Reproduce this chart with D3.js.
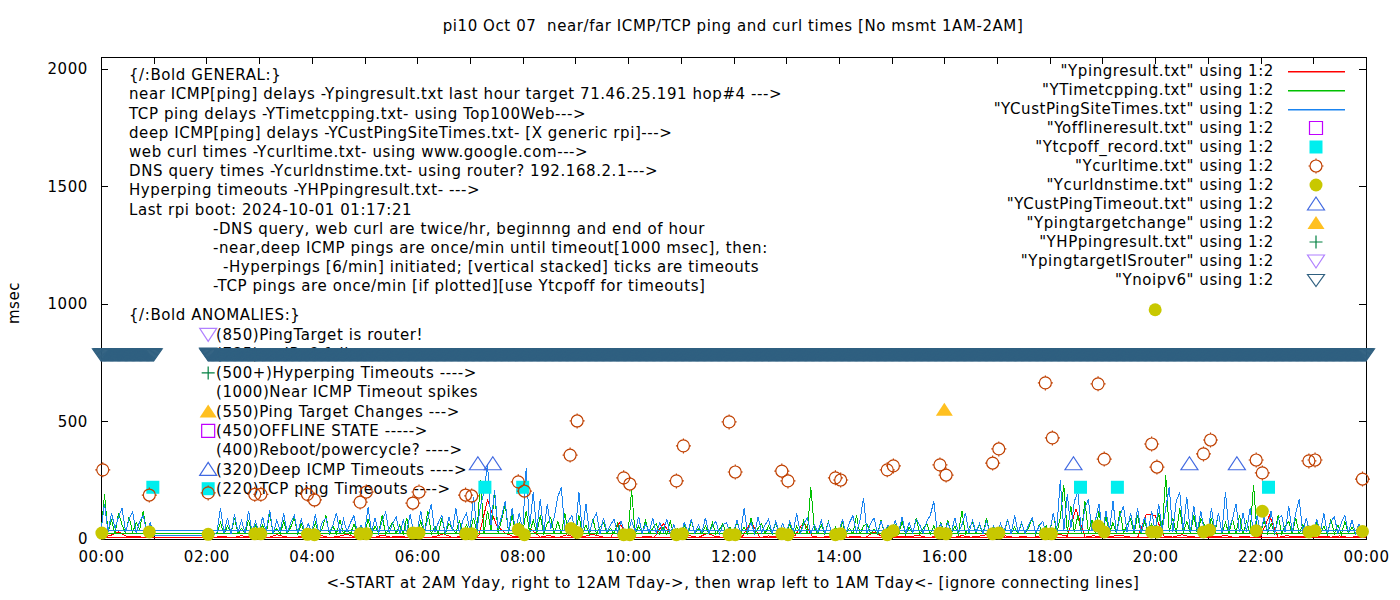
<!DOCTYPE html>
<html>
<head>
<meta charset="utf-8">
<script src="https://cdn.jsdelivr.net/npm/d3@7"></script>
<style>
  body { margin: 0; background: #fff; }
  text { font-family: "DejaVu Sans", sans-serif; font-size: 15px; letter-spacing: 0.58px; fill: #000; white-space: pre; }
</style>
</head>
<body>
<div id="my_dataviz"></div>
<script>

// ---- data (minutes after midnight, msec) ----

// near ICMP ping (Ypingresult), every 10 min
var nearStep = 10
var nearEarly = [8, 14, 30, 9, 12, 6, 8]            // 00:00 - 01:00 today
var nearLate = [                                    // 01:00 - 24:00 yesterday
  8, 8, 8, 8, 8, 8,
  8, 8, 10, 5, 14, 7,
  12, 6, 18, 9, 5, 13,
  7, 15, 6, 11, 20, 8,
  10, 5, 16, 8, 12, 6,
  14, 7, 9, 22, 6, 11,
  9, 13, 165, 60, 25, 10,
  12, 40, 8, 15, 6, 18,
  7, 11, 20, 9, 5, 68,
  13, 6, 10, 8, 66, 12,
  8, 14, 6, 25, 10, 7,
  11, 9, 75, 6, 13, 8,
  6, 15, 72, 10, 7, 12,
  14, 8, 11, 6, 30, 9,
  7, 12, 9, 16, 6, 10,
  10, 6, 14, 8, 12, 20,
  8, 13, 7, 10, 6, 15,
  9, 20, 12, 128, 8, 14,
  7, 11, 16, 9, 6, 105,
  100, 12, 8, 18, 10, 7,
  13, 9, 15, 6, 11, 8,
  10, 100, 7, 14, 9, 12,
  6, 11, 8, 13, 7, 10,
  8]

// TCP ping (YTimetcpping), every 4 min
var tcpStep = 4
var tcpEarly = [25, 190, 30, 80, 22, 110, 60, 24, 95, 28, 70, 40, 120, 26, 65, 25]
var tcpLate = [
  25, 25, 25, 25, 25, 25, 25, 25, 25, 25, 25, 25, 25, 25, 25,
  25, 25, 25, 22, 70, 20, 55, 24, 90, 21, 45, 23, 80, 20, 60,
  22, 60, 20, 110, 23, 45, 21, 75, 24, 50, 90, 20, 65, 22, 40,
  21, 70, 23, 45, 100, 20, 55, 22, 80, 24, 40, 21, 65, 23, 50,
  20, 85, 22, 55, 24, 100, 21, 45, 70, 23, 60, 20, 90, 22, 40,
  23, 75, 20, 120, 22, 55, 24, 90, 21, 65, 45, 23, 80, 20, 60,
  24, 90, 30, 250, 26, 120, 35, 200, 28, 80, 150, 25, 100, 22, 70,
  23, 120, 26, 80, 22, 100, 24, 65, 90, 21, 75, 23, 110, 20, 55,
  21, 100, 23, 60, 20, 85, 22, 50, 70, 24, 45, 21, 65, 23, 40,
  20, 210, 22, 55, 24, 80, 21, 45, 65, 23, 50, 20, 75, 22, 45,
  22, 60, 20, 80, 23, 45, 21, 55, 24, 70, 20, 40, 65, 22, 50,
  21, 75, 23, 50, 20, 90, 22, 45, 65, 24, 55, 21, 70, 23, 40,
  22, 65, 20, 55, 24, 80, 21, 220, 45, 23, 60, 20, 75, 22, 50,
  20, 70, 23, 45, 22, 100, 21, 55, 65, 24, 40, 20, 80, 23, 50,
  23, 60, 21, 75, 20, 50, 24, 90, 22, 45, 65, 21, 55, 23, 70,
  21, 80, 23, 55, 20, 120, 22, 45, 70, 24, 60, 21, 90, 23, 50,
  22, 65, 20, 85, 23, 50, 21, 70, 24, 45, 90, 20, 60, 22, 55,
  24, 110, 26, 90, 230, 28, 140, 30, 100, 25, 160, 27, 80, 24, 120,
  23, 95, 25, 70, 22, 120, 26, 60, 85, 24, 100, 22, 75, 25, 65,
  28, 110, 26, 270, 30, 90, 24, 130, 28, 75, 25, 100, 23, 85, 60,
  24, 90, 22, 110, 26, 70, 23, 85, 25, 100, 21, 75, 24, 230, 22,
  23, 80, 25, 65, 22, 100, 24, 55, 75, 21, 90, 23, 60, 25, 50,
  22, 70, 24, 55, 21, 85, 23, 60, 20, 75, 24, 50, 22, 65, 25,
  25]

// deep ICMP ping (YCustPingSiteTimes), every 4 min
var deepStep = 4
var deepEarly = [35, 150, 28, 110, 45, 95, 130, 30, 85, 115, 26, 75, 100, 30, 70, 17]
var deepLate = [
  17, 17, 17, 17, 17, 17, 17, 17, 17, 17, 17, 17, 17, 17, 17,
  17, 17, 17, 28, 130, 25, 90, 22, 105, 30, 80, 24, 120, 26, 75,
  25, 95, 30, 125, 22, 80, 35, 110, 24, 70, 100, 26, 85, 30, 65,
  28, 105, 22, 75, 90, 25, 60, 110, 24, 85, 30, 70, 100, 22, 60,
  26, 135, 30, 90, 24, 75, 115, 28, 65, 95, 22, 80, 30, 105, 25,
  30, 120, 24, 85, 150, 28, 70, 100, 22, 95, 35, 130, 26, 80, 110,
  35, 180, 40, 140, 200, 320, 60, 210, 45, 95, 160, 30, 130, 28, 110,
  40, 300, 50, 200, 35, 170, 30, 150, 45, 95, 180, 220, 40, 75, 100,
  30, 200, 25, 150, 28, 80, 110, 22, 90, 30, 60, 85, 24, 75, 35,
  24, 80, 30, 95, 22, 65, 28, 90, 25, 70, 30, 85, 22, 60, 26,
  22, 70, 28, 85, 24, 60, 26, 90, 25, 55, 75, 22, 60, 70, 24,
  26, 80, 22, 130, 30, 70, 24, 95, 28, 60, 85, 22, 75, 30, 65,
  25, 75, 30, 110, 22, 65, 90, 24, 60, 28, 80, 22, 70, 30, 26,
  28, 85, 22, 70, 100, 26, 80, 175, 24, 65, 90, 22, 75, 30, 60,
  24, 80, 30, 95, 22, 70, 26, 85, 60, 24, 75, 100, 160, 28, 65,
  22, 70, 28, 90, 24, 60, 110, 26, 80, 30, 65, 22, 75, 28, 55,
  24, 65, 30, 85, 22, 100, 28, 70, 24, 60, 90, 26, 55, 75, 22,
  30, 110, 40, 250, 35, 190, 45, 160, 200, 30, 130, 170, 35, 80, 150,
  28, 120, 35, 160, 25, 100, 140, 30, 110, 35, 130, 26, 95, 30, 120,
  32, 150, 40, 130, 220, 30, 160, 200, 35, 180, 28, 140, 32, 120, 26,
  30, 130, 35, 110, 26, 200, 40, 85, 150, 28, 110, 32, 130, 25, 100,
  26, 95, 30, 120, 22, 85, 100, 28, 140, 30, 110, 170, 26, 90, 24,
  25, 85, 28, 110, 22, 75, 95, 24, 70, 100, 26, 80, 22, 65, 30,
  35]

// web curl times (Ycurltime)
var curlTimes = ["00:02","00:55","02:02","02:55","03:02","03:55","04:03","04:55","05:02","05:55","06:02",
  "06:55","07:02","07:55","08:02","08:54","09:02","09:55","10:02","10:55","11:03","11:55","12:02","12:55",
  "13:02","13:56","14:02","14:55","15:02","15:55","16:02","16:55","17:02","17:55","18:03","18:55","19:02",
  "19:56","20:02","20:55","21:03","21:55","22:02","22:55","23:02","23:56"]
var curlMsec = [294, 187, 196, 190, 190, 190, 166, 157, 200, 153, 200,
  187, 183, 243, 204, 357, 502, 260, 234, 247, 396, 498, 285, 289,
  247, 260, 251, 294, 311, 315, 272, 323, 383, 664, 430, 660, 340,
  404, 306, 362, 421, 336, 281, 332, 336, 255]

// DNS query times (Ycurldnstime)
var dnsTimes = ["00:01","00:55","02:02","02:55","03:02","03:55","04:03","04:55","05:02","05:55","06:02",
  "06:55","07:02","07:55","08:02","08:55","09:02","09:55","10:02","10:55","11:02","11:55","12:02","12:55",
  "13:02","13:56","14:02","14:55","15:02","15:55","16:02","16:55","17:02","17:55","18:02","18:55","19:02",
  "19:56","20:00","20:02","20:55","21:02","21:55","22:02","22:55","23:02","23:56"]
var dnsMsec = [25, 30, 20, 22, 22, 20, 18, 22, 22, 25, 25,
  22, 22, 40, 18, 45, 28, 18, 18, 18, 22, 18, 18, 22,
  18, 18, 22, 18, 35, 25, 22, 22, 25, 22, 22, 55, 30,
  30, 975, 30, 30, 38, 35, 118, 30, 35, 32]

// TCP ping timeouts (Ytcpoff_record)
var tcpOffTimes = ["00:59", "07:17", "08:00", "18:35", "19:17", "22:09"]
var tcpOffMsec = [220, 220, 220, 220, 220, 220]

// deep ICMP timeouts (YCustPingTimeout)
var custTimeoutTimes = ["07:09", "07:26", "18:27", "20:39", "21:33"]
var custTimeoutMsec = [320, 320, 320, 320, 320]

// ping target change
var targetChangeTimes = ["16:00"]
var targetChangeMsec = [550]

// no ipv6 (Ynoipv6): logged every minute at 785 during these spans
var noIpv6Spans = [["00:00", "01:00"], ["02:02", "24:00"]]
var noIpv6Msec = 785

// axis ticks
var yTicks = [0, 500, 1000, 1500, 2000]
var xTickLabels = ["00:00","02:00","04:00","06:00","08:00","10:00","12:00","14:00","16:00","18:00","20:00","22:00","00:00"]

// text blocks
var titleText = "pi10 Oct 07  near/far ICMP/TCP ping and curl times [No msmt 1AM-2AM]"
var xLabelText = "<-START at 2AM Yday, right to 12AM Tday->, then wrap left to 1AM Tday<- [ignore connecting lines]"
var generalLines = [
  "{/:Bold GENERAL:}",
  "near ICMP[ping] delays -Ypingresult.txt last hour target 71.46.25.191 hop#4 --->",
  "TCP ping delays -YTimetcpping.txt- using Top100Web--->",
  "deep ICMP[ping] delays -YCustPingSiteTimes.txt- [X generic rpi]--->",
  "web curl times -Ycurltime.txt- using www.google.com--->",
  "DNS query times -Ycurldnstime.txt- using router? 192.168.2.1--->",
  "Hyperping timeouts -YHPpingresult.txt- --->",
  "Last rpi boot: 2024-10-01 01:17:21",
  "-DNS query, web curl are twice/hr, beginnng and end of hour",
  "-near,deep ICMP pings are once/min until timeout[1000 msec], then:",
  "-Hyperpings [6/min] initiated; [vertical stacked] ticks are timeouts",
  "-TCP pings are once/min [if plotted][use Ytcpoff for timeouts]"
]
var generalIndent = [129, 129, 129, 129, 129, 129, 129, 129, 213, 213, 223, 213]
var anomalyLines = [
  "{/:Bold ANOMALIES:}",
  "(850)PingTarget is router!",
  "(785)no IPv6 failures ---->",
  "(500+)Hyperping Timeouts ---->",
  "(1000)Near ICMP Timeout spikes",
  "(550)Ping Target Changes --->",
  "(450)OFFLINE STATE ----->",
  "(400)Reboot/powercycle? ---->",
  "(320)Deep ICMP Timeouts ---->",
  "(220)TCP ping Timeouts ---->"
]
var anomalySymbols = [null, "router", "noipv6", "hpping", null, "target", "offline", null, "custtimeout", "tcpoff"]

var legendNames = ['"Ypingresult.txt" using 1:2', '"YTimetcpping.txt" using 1:2', '"YCustPingSiteTimes.txt" using 1:2',
  '"Yofflineresult.txt" using 1:2', '"Ytcpoff_record.txt" using 1:2', '"Ycurltime.txt" using 1:2',
  '"Ycurldnstime.txt" using 1:2', '"YCustPingTimeout.txt" using 1:2', '"Ypingtargetchange" using 1:2',
  '"YHPpingresult.txt" using 1:2', '"YpingtargetISrouter" using 1:2', '"Ynoipv6" using 1:2']
var legendKeys = ["near", "tcp", "deep", "offline", "tcpoff", "curl", "dns", "custtimeout", "target", "hpping", "router", "noipv6"]

// ---- styles ----
var colors = {
  near: "#ff0000", tcp: "#00c000", deep: "#1a84f0",
  offline: "#c000ff", tcpoff: "#00eeee", curl: "#c04000", dns: "#c8c800",
  custtimeout: "#4169e1", target: "#ffc020", hpping: "#008040", router: "#b080ff", noipv6: "#306080"
}

var width = 1400
var height = 600

var svg = d3.select("#my_dataviz")
  .append("svg")
    .attr("width", width)
    .attr("height", height)

var x = d3.scaleLinear().domain([0, 1440]).range([101, 1366])
var y = d3.scaleLinear().domain([0, 2050]).range([539, 57])

function mins(s) { var p = s.split(":"); return +p[0] * 60 + +p[1] }
function seg(start, step, values) { return values.map((v, i) => ({ t: start + i * step, v: v })) }

// symbol shapes (centred on 0,0)
var shapes = {
  offline: { d: "M-6.5,-6.5H6.5V6.5H-6.5Z", fill: false },
  tcpoff: { d: "M-6.5,-6.5H6.5V6.5H-6.5Z", fill: true },
  curl: { d: "M6,0A6,6 0 1 1 -6,0A6,6 0 1 1 6,0M0,-7.5V-6M0,6V7.5M-7.5,0H-6M6,0H7.5", fill: false },
  dns: { d: "M6.5,0A6.5,6.5 0 1 1 -6.5,0A6.5,6.5 0 1 1 6.5,0Z", fill: true },
  custtimeout: { d: "M0,-7L8.5,6L-8.5,6Z", fill: false },
  target: { d: "M0,-7L8.5,6L-8.5,6Z", fill: true },
  hpping: { d: "M-6.5,0H6.5M0,-6.5V6.5", fill: false },
  router: { d: "M-8.5,-6L8.5,-6L0,7Z", fill: false },
  noipv6: { d: "M-8.5,-5.5L8.5,-5.5L0,6.5Z", fill: false }
}

function symbol(g, key, cx, cy) {
  var s = shapes[key]
  g.append("path")
    .attr("d", s.d)
    .attr("transform", "translate(" + cx + "," + cy + ")")
    .attr("fill", s.fill ? colors[key] : "none")
    .attr("stroke", colors[key])
    .attr("stroke-width", s.fill ? 0 : 1.2)
}

// ---- title and axis labels ----
svg.append("text").attr("x", 733).attr("y", 26).attr("dy", "0.35em")
  .attr("text-anchor", "middle").text(titleText)
svg.append("text").attr("x", 733).attr("y", 583).attr("dy", "0.35em")
  .attr("text-anchor", "middle").text(xLabelText)
svg.append("text").attr("transform", "translate(14,303) rotate(-90)").attr("dy", "0.35em")
  .attr("text-anchor", "middle").text("msec")

// ---- axes (gnuplot style: inward ticks, mirrored) ----
var xAxis = d3.axisBottom(x).tickValues(d3.range(0, 1441, 60)).tickSize(-7).tickPadding(12)
  .tickFormat(d => d % 120 ? "" : xTickLabels[d / 120])
svg.append("g").attr("transform", "translate(0,539)").call(xAxis)
svg.append("g").attr("transform", "translate(0,57)")
  .call(d3.axisTop(x).tickValues(d3.range(0, 1441, 60)).tickSize(-7).tickFormat(""))
svg.append("g").attr("transform", "translate(101,0)")
  .call(d3.axisLeft(y).tickValues(yTicks).tickSize(-7).tickPadding(13).tickFormat(d3.format("d")))
svg.append("g").attr("transform", "translate(1366,0)")
  .call(d3.axisRight(y).tickValues(yTicks).tickSize(-7).tickFormat(""))
svg.selectAll(".domain").remove()
svg.selectAll(".tick line").attr("stroke", "#000").attr("shape-rendering", "crispEdges")
svg.selectAll(".tick text").attr("fill", "#000")
svg.append("rect").attr("x", 101).attr("y", 57).attr("width", 1265).attr("height", 482)
  .attr("fill", "none").attr("stroke", "#000").attr("shape-rendering", "crispEdges")

// ---- text labels inside the plot (drawn behind the data) ----
var notes = svg.append("g")
notes.selectAll("text.gen")
  .data(generalLines)
  .join("text")
    .attr("class", "gen")
    .attr("x", (d, i) => generalIndent[i])
    .attr("y", (d, i) => 75 + i * 19.2)
    .attr("dy", "0.35em")
    .text(d => d)
notes.selectAll("text.anom")
  .data(anomalyLines)
  .join("text")
    .attr("class", "anom")
    .attr("x", (d, i) => i ? 216 : 129)
    .attr("y", (d, i) => 315 + i * 19.3)
    .attr("dy", "0.35em")
    .text(d => d)
anomalySymbols.forEach(function(k, i) {
  if (k) symbol(notes, k, x(122), 315 + i * 19.3)
})

// ---- lines: yesterday 01:00-24:00 first, then wrap to today 00:00-01:00 ----
var line = d3.line().x(d => x(d.t)).y(d => y(d.v))
var lineSeries = [
  { key: "near", data: seg(60, nearStep, nearLate).concat(seg(0, nearStep, nearEarly)) },
  { key: "tcp", data: seg(60, tcpStep, tcpLate).concat(seg(0, tcpStep, tcpEarly)) },
  { key: "deep", data: seg(60, deepStep, deepLate).concat(seg(0, deepStep, deepEarly)) }
]
svg.append("g")
  .selectAll("path")
  .data(lineSeries)
  .join("path")
    .attr("d", d => line(d.data))
    .attr("fill", "none")
    .attr("stroke", d => colors[d.key])
    .attr("stroke-width", 1)
    .attr("shape-rendering", "crispEdges")

// ---- point series ----
var pts = svg.append("g")
function plotPoints(key, times, values) {
  times.forEach((t, i) => symbol(pts, key, x(mins(t)), y(values[i])))
}
plotPoints("tcpoff", tcpOffTimes, tcpOffMsec)
plotPoints("curl", curlTimes, curlMsec)
plotPoints("dns", dnsTimes, dnsMsec)
plotPoints("custtimeout", custTimeoutTimes, custTimeoutMsec)
plotPoints("target", targetChangeTimes, targetChangeMsec)
noIpv6Spans.forEach(function(span) {
  for (var m = mins(span[0]); m <= mins(span[1]); m++) symbol(pts, "noipv6", x(m), y(noIpv6Msec))
})

// ---- key ----
var key = svg.append("g")
legendKeys.forEach(function(k, i) {
  var cy = 71 + i * 19
  key.append("text").attr("x", 1274).attr("y", cy).attr("dy", "0.35em")
    .attr("text-anchor", "end").text(legendNames[i])
  if (shapes[k]) symbol(key, k, 1316, cy)
  else key.append("rect").attr("x", 1288).attr("y", cy).attr("width", 57).attr("height", 1.5)
    .attr("fill", colors[k])
})

</script>
</body>
</html>
